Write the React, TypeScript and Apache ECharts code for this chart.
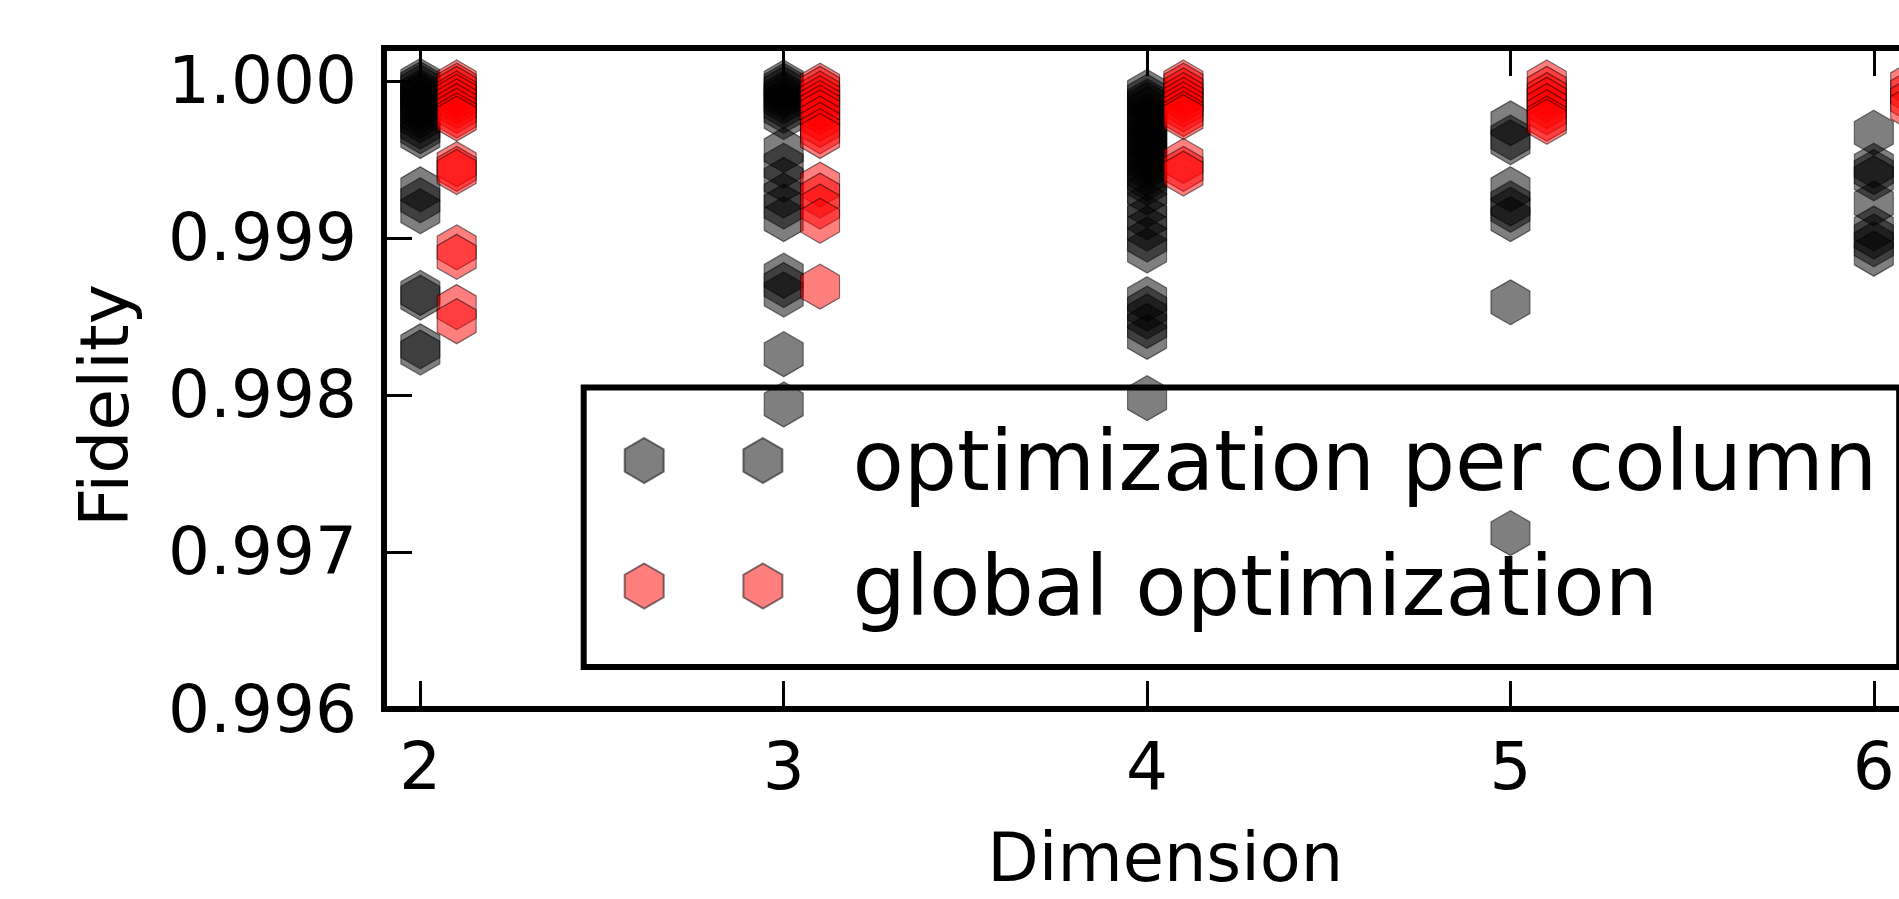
import React, { useEffect, useRef } from "react";
import * as echarts from "echarts";

// ---------------- data ----------------
const dimensions = [2, 3, 4, 5, 6];
const GLOBAL_X_OFFSET = 0.1;

const perColumnD2 = [1.0, 0.99998, 0.99996, 0.99993, 0.99991, 0.99989, 0.99986, 0.99984, 0.99981, 0.99978, 0.99975, 0.99971, 0.99968, 0.99965, 0.99931, 0.99924, 0.99917, 0.99865, 0.99862, 0.99831, 0.99827];
const perColumnD3 = [0.99999, 0.99997, 0.99995, 0.99992, 0.9999, 0.99987, 0.99984, 0.99981, 0.99977, 0.99956, 0.99946, 0.99937, 0.99927, 0.9992, 0.99912, 0.99876, 0.9987, 0.99864, 0.99826, 0.99794];
const perColumnD4 = [0.99993, 0.9999, 0.99987, 0.99985, 0.99982, 0.99978, 0.99975, 0.99973, 0.9997, 0.99966, 0.99963, 0.99961, 0.99957, 0.99954, 0.99951, 0.99948, 0.99945, 0.99941, 0.99938, 0.99935, 0.99929, 0.99921, 0.99913, 0.99906, 0.99899, 0.99892, 0.99861, 0.99855, 0.9985, 0.99844, 0.99837, 0.99798];
const perColumnD5 = [0.99973, 0.99964, 0.99961, 0.99931, 0.99922, 0.99918, 0.99912, 0.99859, 0.99712];
const perColumnD6 = [0.99967, 0.99946, 0.99942, 0.99938, 0.99922, 0.99906, 0.99901, 0.99896, 0.9989];

const globalD2 = [0.99999, 0.99997, 0.99995, 0.99992, 0.9999, 0.99987, 0.99984, 0.99981, 0.99978, 0.99976, 0.99947, 0.99944, 0.99942, 0.99894, 0.99888, 0.99856, 0.99847];
const globalD3 = [0.99997, 0.99995, 0.99992, 0.99989, 0.99986, 0.99983, 0.9998, 0.99976, 0.99972, 0.99968, 0.99965, 0.99934, 0.99927, 0.9992, 0.99911, 0.99869];
const globalD4 = [0.99999, 0.99997, 0.99994, 0.99991, 0.99988, 0.99985, 0.99982, 0.99979, 0.99977, 0.99949, 0.99944, 0.99941];
const globalD5 = [0.99999, 0.99995, 0.99991, 0.99988, 0.99984, 0.9998, 0.99976, 0.99974];
const globalD6 = [0.99998, 0.99993, 0.99988, 0.99983];

const perColumnByDim = [perColumnD2, perColumnD3, perColumnD4, perColumnD5, perColumnD6];
const globalByDim = [globalD2, globalD3, globalD4, globalD5, globalD6];

const SERIES_PER_COLUMN = "optimization per column";
const SERIES_GLOBAL = "global optimization";

const X_MIN = 1.9;
const X_MAX = 6.2;
const Y_MIN = 0.996;
const Y_MAX = 1.00021;
const Y_STEP = 0.001;

// ---------------- styling helpers ----------------
const FONT = "DejaVu Sans";
const HEX = "path://M0,-1L0.866,-0.5L0.866,0.5L0,1L-0.866,0.5L-0.866,-0.5Z";
const hexPath = (cx: number) =>
  `M${cx} 0L${cx + 19.5} 11.25L${cx + 19.5} 33.75L${cx} 45L${cx - 19.5} 33.75L${cx - 19.5} 11.25Z`;
const LEGEND_ICON = "path://" + hexPath(19.5) + hexPath(138.2);

function buildPoints(byDim: number[][], offset: number) {
  const pts: number[][] = [];
  byDim.forEach((vals, i) => {
    vals.forEach((v) => pts.push([dimensions[i] + offset, v]));
  });
  return pts;
}

export default function App() {
  const ref = useRef<HTMLDivElement>(null);

  useEffect(() => {
    if (!ref.current) return;
    const chart = echarts.init(ref.current, undefined, { renderer: "svg" });

    const tickStyle = { color: "#000", width: 3 };
    const xLabelFormatter = (v: number) =>
      Math.abs(v - Math.round(v)) < 1e-6 ? String(Math.round(v)) : "";
    const yLabelFormatter = (v: number) =>
      Math.abs(v / Y_STEP - Math.round(v / Y_STEP)) < 1e-4 ? v.toFixed(3) : "";

    chart.setOption({
      animation: false,
      backgroundColor: "#ffffff",
      textStyle: { fontFamily: FONT },
      grid: {
        left: 384,
        top: 48,
        bottom: 190,
        right: -47.5,
        show: true,
        borderColor: "#000",
        borderWidth: 6,
        backgroundColor: "transparent",
        containLabel: false,
        outerBoundsMode: "none",
      },
      xAxis: [
        {
          type: "value",
          min: X_MIN,
          max: X_MAX,
          axisLine: { show: false },
          splitLine: { show: false },
          axisTick: { inside: true, length: 28, lineStyle: tickStyle },
          axisLabel: {
            formatter: xLabelFormatter,
            fontSize: 66,
            color: "#000",
            fontFamily: FONT,
            margin: 24,
          },
          name: "Dimension",
          nameLocation: "middle",
          nameGap: 122,
          nameTextStyle: { fontSize: 67, lineHeight: 54, color: "#000", fontFamily: FONT },
        },
        {
          type: "value",
          position: "top",
          min: X_MIN,
          max: X_MAX,
          axisLine: { show: false },
          splitLine: { show: false },
          axisTick: { inside: true, length: 28, lineStyle: tickStyle },
          axisLabel: { show: false },
        },
      ],
      yAxis: {
        type: "value",
        min: Y_MIN,
        max: Y_MAX,
        interval: Y_STEP,
        axisLine: { show: false },
        splitLine: { show: false },
        axisTick: { inside: true, length: 28, lineStyle: tickStyle },
        axisLabel: {
          formatter: yLabelFormatter,
          fontSize: 66,
          color: "#000",
          fontFamily: FONT,
          margin: 27,
          padding: [0, 0, 8, 0],
        },
        name: "Fidelity",
        nameLocation: "middle",
        nameGap: 246,
        nameRotate: 90,
        nameTextStyle: {
          fontSize: 68,
          color: "#000",
          fontFamily: FONT,
          padding: [0, 54, 0, 0],
        },
      },
      legend: {
        orient: "vertical",
        left: 583.7,
        top: 387.5,
        itemWidth: 157.7,
        itemHeight: 45,
        itemGap: 41.5,
        padding: [31, 22, 39, 40],
        borderColor: "#000",
        borderWidth: 6,
        backgroundColor: "transparent",
        selectedMode: false,
        textStyle: {
          fontSize: 84,
          lineHeight: 84,
          color: "#000",
          fontFamily: FONT,
          padding: [0, 0, 0, 65],
        },
        data: [
          { name: SERIES_PER_COLUMN, icon: LEGEND_ICON },
          { name: SERIES_GLOBAL, icon: LEGEND_ICON },
        ],
      },
      series: [
        {
          name: SERIES_PER_COLUMN,
          type: "scatter",
          xAxisIndex: 0,
          symbol: HEX,
          symbolSize: [39, 45],
          clip: false,
          itemStyle: {
            color: "rgba(0,0,0,0.5)",
            borderColor: "rgba(0,0,0,0.5)",
            borderWidth: 1.2,
            opacity: 1,
          },
          data: buildPoints(perColumnByDim, 0),
        },
        {
          name: SERIES_GLOBAL,
          type: "scatter",
          xAxisIndex: 0,
          symbol: HEX,
          symbolSize: [39, 45],
          clip: false,
          itemStyle: {
            color: "rgba(255,0,0,0.5)",
            borderColor: "rgba(0,0,0,0.5)",
            borderWidth: 1.2,
            opacity: 1,
          },
          data: buildPoints(globalByDim, GLOBAL_X_OFFSET),
        },
      ],
    });

    return () => chart.dispose();
  }, []);

  return (
    <div
      ref={ref}
      style={{ position: "fixed", left: 0, top: 0, width: 1899, height: 899, background: "#fff" }}
    />
  );
}
